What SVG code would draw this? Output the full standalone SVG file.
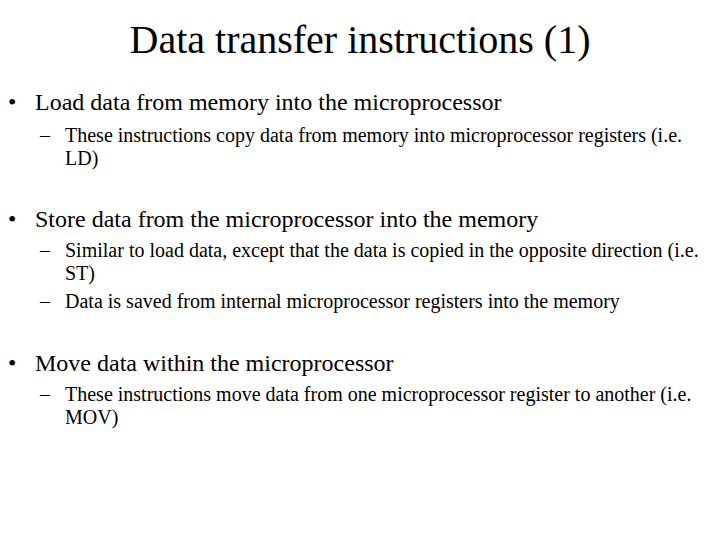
<svg xmlns="http://www.w3.org/2000/svg" width="720" height="540" viewBox="0 0 720 540">
<style>
text{font-family:"Liberation Serif","Times New Roman",serif;fill:#000}
.t{font-size:40px}
.b{font-size:24px}
.s{font-size:20px}
</style>
<rect width="720" height="540" fill="#fff"/>
<text class="t" x="360" y="53" text-anchor="middle">Data transfer instructions (1)</text>
<g id="b1">
<text class="b" x="8" y="110">•</text><text class="b" x="35" y="110">Load data from memory into the microprocessor</text>
<text class="s" x="40" y="142">–</text><text class="s" x="65" y="142">These instructions copy data from memory into microprocessor registers (i.e.</text>
<text class="s" x="65" y="165">LD)</text>
</g>
<g id="b2">
<text class="b" x="8" y="227">•</text><text class="b" x="35" y="227">Store data from the microprocessor into the memory</text>
<text class="s" x="40" y="257">–</text><text class="s" x="65" y="257">Similar to load data, except that the data is copied in the opposite direction (i.e.</text>
<text class="s" x="65" y="280">ST)</text>
<text class="s" x="40" y="308">–</text><text class="s" x="65" y="308">Data is saved from internal microprocessor registers into the memory</text>
</g>
<g id="b3">
<text class="b" x="8" y="371">•</text><text class="b" x="35" y="371">Move data within the microprocessor</text>
<text class="s" x="40" y="401">–</text><text class="s" x="65" y="401">These instructions move data from one microprocessor register to another (i.e.</text>
<text class="s" x="65" y="424">MOV)</text>
</g>
</svg>
